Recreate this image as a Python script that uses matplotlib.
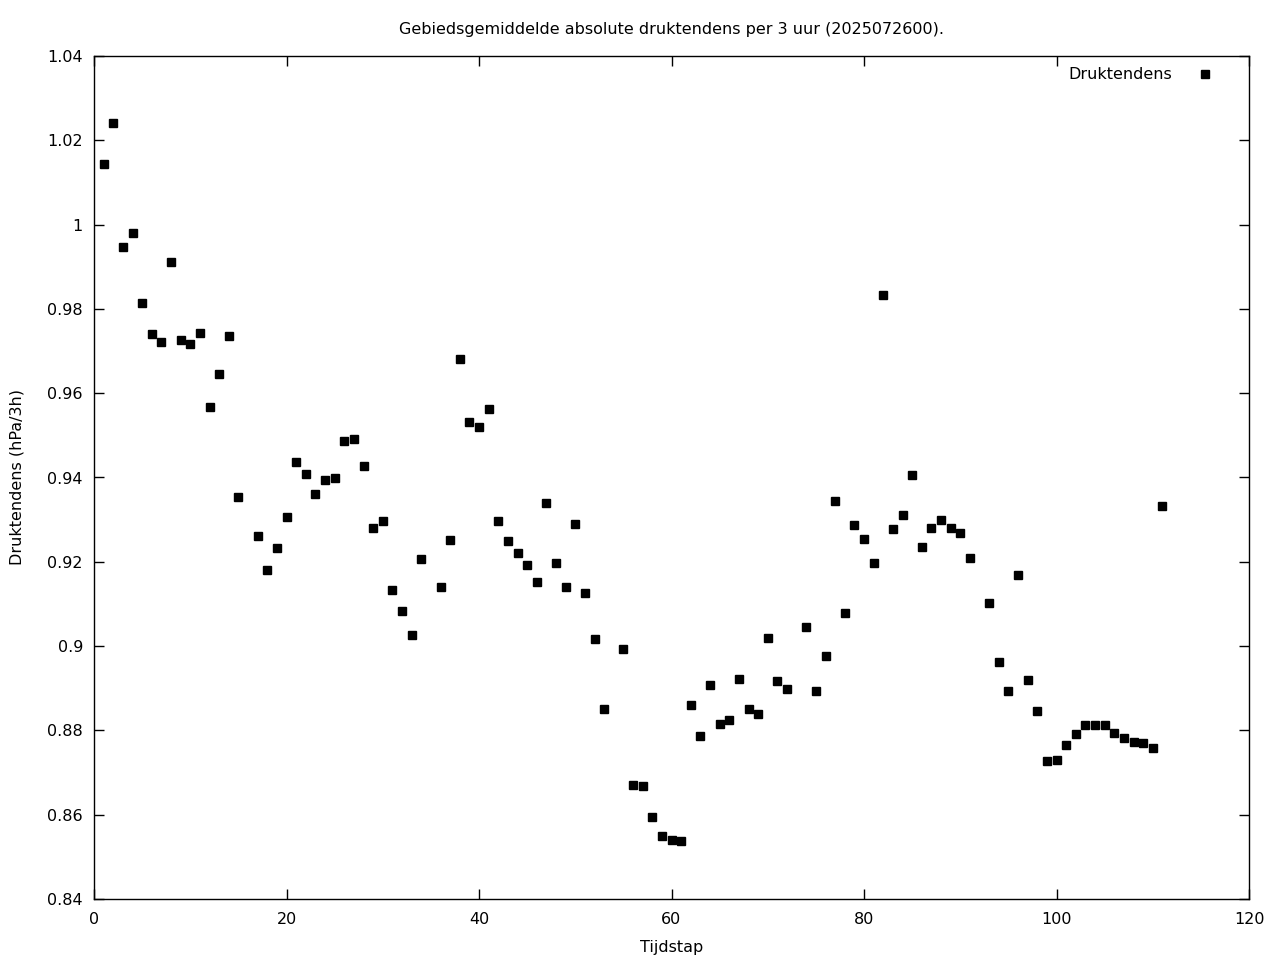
import matplotlib
matplotlib.use('Agg')
import matplotlib.pyplot as plt

# tijdstappen (16, 35, 54, 73 en 92 ontbreken)
tijdstap = [1, 2, 3, 4, 5, 6, 7, 8, 9, 10,
            11, 12, 13, 14, 15, 17, 18, 19, 20,
            21, 22, 23, 24, 25, 26, 27, 28, 29, 30,
            31, 32, 33, 34, 36, 37, 38, 39, 40,
            41, 42, 43, 44, 45, 46, 47, 48, 49, 50,
            51, 52, 53, 55, 56, 57, 58, 59, 60,
            61, 62, 63, 64, 65, 66, 67, 68, 69, 70,
            71, 72, 74, 75, 76, 77, 78, 79, 80,
            81, 82, 83, 84, 85, 86, 87, 88, 89, 90,
            91, 93, 94, 95, 96, 97, 98, 99, 100,
            101, 102, 103, 104, 105, 106, 107, 108, 109, 110,
            111]

druktendens = [1.0144, 1.0241, 0.9947, 0.9980, 0.9814, 0.9740, 0.9721, 0.9911, 0.9726, 0.9717,
               0.9743, 0.9567, 0.9646, 0.9736, 0.9354, 0.9261, 0.9181, 0.9233, 0.9306,
               0.9437, 0.9408, 0.9361, 0.9394, 0.9399, 0.9487, 0.9491, 0.9427, 0.9280, 0.9297,
               0.9133, 0.9083, 0.9026, 0.9207, 0.9140, 0.9252, 0.9681, 0.9532, 0.9520,
               0.9563, 0.9297, 0.9249, 0.9221, 0.9192, 0.9152, 0.9340, 0.9197, 0.9140, 0.9290,
               0.9126, 0.9017, 0.8851, 0.8993, 0.8670, 0.8668, 0.8595, 0.8550, 0.8540,
               0.8538, 0.8860, 0.8787, 0.8908, 0.8815, 0.8825, 0.8922, 0.8851, 0.8839, 0.9019,
               0.8917, 0.8898, 0.9045, 0.8893, 0.8977, 0.9344, 0.9079, 0.9287, 0.9254,
               0.9197, 0.9833, 0.9278, 0.9311, 0.9406, 0.9235, 0.9280, 0.9299, 0.9280, 0.9268,
               0.9209, 0.9102, 0.8962, 0.8893, 0.9169, 0.8920, 0.8846, 0.8727, 0.8730,
               0.8765, 0.8791, 0.8813, 0.8813, 0.8813, 0.8794, 0.8782, 0.8772, 0.8770, 0.8758,
               0.9332]

xticks = [0, 20, 40, 60, 80, 100, 120]
yticks = [0.84, 0.86, 0.88, 0.9, 0.92, 0.94, 0.96, 0.98, 1, 1.02, 1.04]
ylabels = ['0.84', '0.86', '0.88', '0.9', '0.92', '0.94', '0.96', '0.98', '1', '1.02', '1.04']

plt.rcParams['font.family'] = 'DejaVu Sans'
plt.rcParams['font.size'] = 11.5

fig = plt.figure(figsize=(12.8, 9.6), dpi=100)
ax = fig.add_axes([94 / 1280, 1 - 899 / 960, (1249 - 94) / 1280, (899 - 56) / 960])

ax.plot(tijdstap, druktendens, 's', color='black', markersize=5.3, label='Druktendens')

ax.set_xlim(0, 120)
ax.set_ylim(0.84, 1.04)
ax.set_xticks(xticks)
ax.set_yticks(yticks)
ax.set_yticklabels(ylabels)
ax.tick_params(direction='in', top=True, right=True, length=7, width=1)
ax.tick_params(axis='y', pad=8)
ax.tick_params(axis='x', pad=9.5)
for s in ax.spines.values():
    s.set_linewidth(1)

ax.set_xlabel('Tijdstap', labelpad=9)
ax.set_ylabel('Druktendens (hPa/3h)', labelpad=16)
ax.set_title('Gebiedsgemiddelde absolute druktendens per 3 uur (2025072600).',
             fontsize=11.5, pad=16)

ax.legend(loc='upper right', frameon=False, markerfirst=False, handlelength=1.0,
          handletextpad=1.56, borderaxespad=0.3, bbox_to_anchor=(0.9785, 1.0))

fig.savefig('out.png', dpi=100)
